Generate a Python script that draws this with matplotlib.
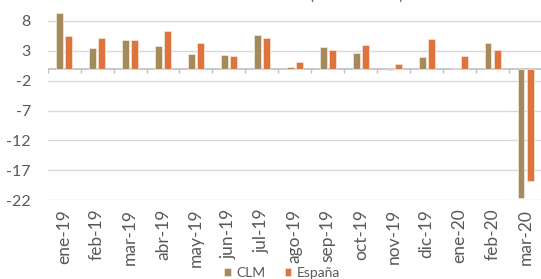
import numpy as np
import matplotlib.pyplot as plt

# datos (tasa de variación, %)
meses = ['ene-19', 'feb-19', 'mar-19', 'abr-19', 'may-19', 'jun-19', 'jul-19',
         'ago-19', 'sep-19', 'oct-19', 'nov-19', 'dic-19', 'ene-20', 'feb-20', 'mar-20']
clm = [9.3, 3.4, 4.8, 3.85, 2.5, 2.3, 5.6, 0.3, 3.55, 2.6, -0.2, 1.95, 0.1, 4.25, -21.6]
espana = [5.5, 5.05, 4.7, 6.2, 4.25, 2.1, 5.15, 1.1, 3.1, 4.0, 0.8, 4.95, 2.05, 3.15, -18.7]
yticks = [-22, -17, -12, -7, -2, 3, 8]

col_clm = '#A58A5C'
col_esp = '#DD743D'
gris = '#595959'

plt.rcParams['font.family'] = ['Lato', 'DejaVu Sans']

fig = plt.figure(figsize=(5.41, 2.79), dpi=100)
ax = fig.add_axes([0.088, 0.2817, 0.914, 0.698])

x = np.arange(len(meses))
w = 0.21
ax.bar(x - 0.14, clm, w, color=col_clm, edgecolor='#F2EEE6', linewidth=0.5, label='CLM', zorder=3)
ax.bar(x + 0.14, espana, w, color=col_esp, edgecolor='#F8E6DA', linewidth=0.5, label='España', zorder=3)

ax.set_xlim(-0.5, len(meses) - 0.5)
ax.set_ylim(-22, 10.5)
ax.set_yticks(yticks)
ax.set_yticklabels([str(v) for v in yticks], color=gris, fontsize=11.5)
ax.tick_params(axis='y', length=0, pad=12)
ax.grid(axis='y', color='#D9D9D9', linewidth=1, zorder=0)

# eje de categorías en el cero
ax.axhline(0, color='#BFBFBF', linewidth=1.2, zorder=2)
ax.vlines(np.arange(len(meses) + 1) - 0.5, 0, -0.7, color='#BFBFBF', linewidth=1, zorder=2)

ax.set_xticks(x)
ax.set_xticklabels(meses, rotation=90, color=gris, fontsize=12.5)
ax.tick_params(axis='x', length=0, pad=6)

for s in ax.spines.values():
    s.set_visible(False)

# título recortado en la imagen original
fig.text(0.659, 1.0, '(' + ' ' * 22 + ')', ha='center', va='baseline', fontsize=11, color=gris)

fig.legend(loc='center', bbox_to_anchor=(0.521, 0.022), ncol=2, frameon=False,
           fontsize=10, handlelength=0.5, handleheight=0.5, handletextpad=0.35,
           columnspacing=1.4, labelcolor=gris)

fig.savefig('out.png', dpi=100)
